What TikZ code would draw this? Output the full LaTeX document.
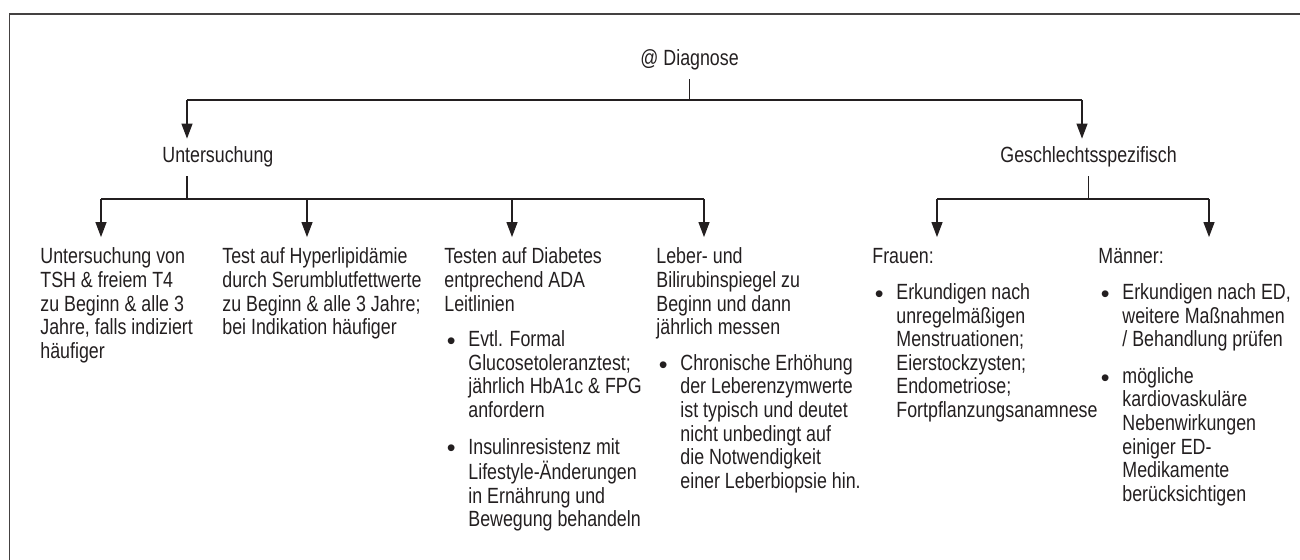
\documentclass[tikz,border=0pt]{standalone}
\usepackage{fontspec}
\setmainfont{Liberation Sans}[FakeStretch=0.81]
\newfontfamily\bulletfont{Liberation Sans}
\usetikzlibrary{arrows.meta}
\definecolor{ink}{HTML}{231F20}
\newcommand{\hd}[1]{\multicolumn{2}{@{}l@{}}{#1}}
\newcommand{\bl}{\makebox[12pt][l]{\hspace*{1.2pt}\raisebox{-1.4pt}{\bulletfont\fontsize{12.5pt}{12.5pt}\selectfont\textbullet}}}
\begin{document}
\begin{tikzpicture}[x=0.5pt,y=-0.5pt,
  txt/.style={font=\fontsize{11pt}{11.8pt}\selectfont, text=ink},
  lbl/.style={txt, anchor=base west, inner xsep=0pt, inner ysep=4pt, text height=8pt, text depth=2.5pt},
  col/.style={txt, anchor=base west, inner xsep=0pt, inner ysep=5pt},
  link/.style={draw=ink, line width=0.6pt},
  arr/.style={link, -{Triangle[length=7.5pt,width=5.5pt]}},
  frame/.style={draw=ink!85, line width=0.8pt}]
\useasboundingbox (0,0) rectangle (1300,560);
\draw[frame] (9.5,560) -- (9.5,14) -- (1300,14);

% headings
\node[lbl] (diag) at (640,66) {@ Diagnose};
\node[lbl] (unt) at (162,163) {Untersuchung};
\node[lbl] (ges) at (1000,163) {Geschlechtsspezifisch};

% columns
\node[col] (c1) at (40,264) {\begin{tabular}[t]{@{}l@{}}
Untersuchung von\\
TSH \& freiem T4\\
zu Beginn \& alle 3\\
Jahre, falls indiziert\\
häufiger
\end{tabular}};
\node[col] (c2) at (222,264) {\begin{tabular}[t]{@{}l@{}}
Test auf Hyperlipidämie\\
durch Serumblutfettwerte\\
zu Beginn \& alle 3 Jahre;\\
bei Indikation häufiger
\end{tabular}};
\node[col] (c3) at (444,264) {\begin{tabular}[t]{@{}l@{}l@{}}
\hd{Testen auf Diabetes}\\
\hd{entprechend ADA}\\
\hd{Leitlinien}\\[6pt]
\bl & Evtl. Formal\\
 & Glucosetoleranztest;\\
 & jährlich HbA1c \& FPG\\
 & anfordern\\[6.5pt]
\bl & Insulinresistenz mit\\
 & Lifestyle-Änderungen\\
 & in Ernährung und\\
 & Bewegung behandeln
\end{tabular}};
\node[col] (c4) at (656,264) {\begin{tabular}[t]{@{}l@{}l@{}}
\hd{Leber- und}\\
\hd{Bilirubinspiegel zu}\\
\hd{Beginn und dann}\\
\hd{jährlich messen}\\[6pt]
\bl & Chronische Erhöhung\\
 & der Leberenzymwerte\\
 & ist typisch und deutet\\
 & nicht unbedingt auf\\
 & die Notwendigkeit\\
 & einer Leberbiopsie hin.
\end{tabular}};
\node[col] (c5) at (872,264) {\begin{tabular}[t]{@{}l@{}l@{}}
\hd{Frauen:}\\[6pt]
\bl & Erkundigen nach\\
 & unregelmäßigen\\
 & Menstruationen;\\
 & Eierstockzysten;\\
 & Endometriose;\\
 & Fortpflanzungsanamnese
\end{tabular}};
\node[col] (c6) at (1098,264) {\begin{tabular}[t]{@{}l@{}l@{}}
\hd{Männer:}\\[6pt]
\bl & Erkundigen nach ED,\\
 & weitere Maßnahmen\\
 & / Behandlung prüfen\\[6.5pt]
\bl & mögliche\\
 & kardiovaskuläre\\
 & Nebenwirkungen\\
 & einiger ED-\\
 & Medikamente\\
 & berücksichtigen
\end{tabular}};

% junction coordinates
\coordinate (tL) at (187,100);
\coordinate (tR) at (1082,100);
\coordinate (uL) at (101,199);
\coordinate (u2) at (307,199);
\coordinate (u3) at (512,199);
\coordinate (uR) at (704,199);
\coordinate (gL) at (937,199);
\coordinate (gR) at (1209,199);

% top level
\draw[link] (diag.south) -- (diag.south |- tL);
\draw[link] (tL) -- (tR);
\draw[arr] (tL) -- (tL |- unt.north);
\draw[arr] (tR) -- (tR |- ges.north);

% Untersuchung branch
\draw[link] (unt.south -| tL) -- (tL |- uL);
\draw[link] (uL) -- (uR);
\draw[arr] (uL) -- (uL |- c1.north);
\draw[arr] (u2) -- (u2 |- c2.north);
\draw[arr] (u3) -- (u3 |- c3.north);
\draw[arr] (uR) -- (uR |- c4.north);

% Geschlechtsspezifisch branch
\draw[link] (ges.south) -- (ges.south |- gL);
\draw[link] (gL) -- (gR);
\draw[arr] (gL) -- (gL |- c5.north);
\draw[arr] (gR) -- (gR |- c6.north);
\end{tikzpicture}
\end{document}
